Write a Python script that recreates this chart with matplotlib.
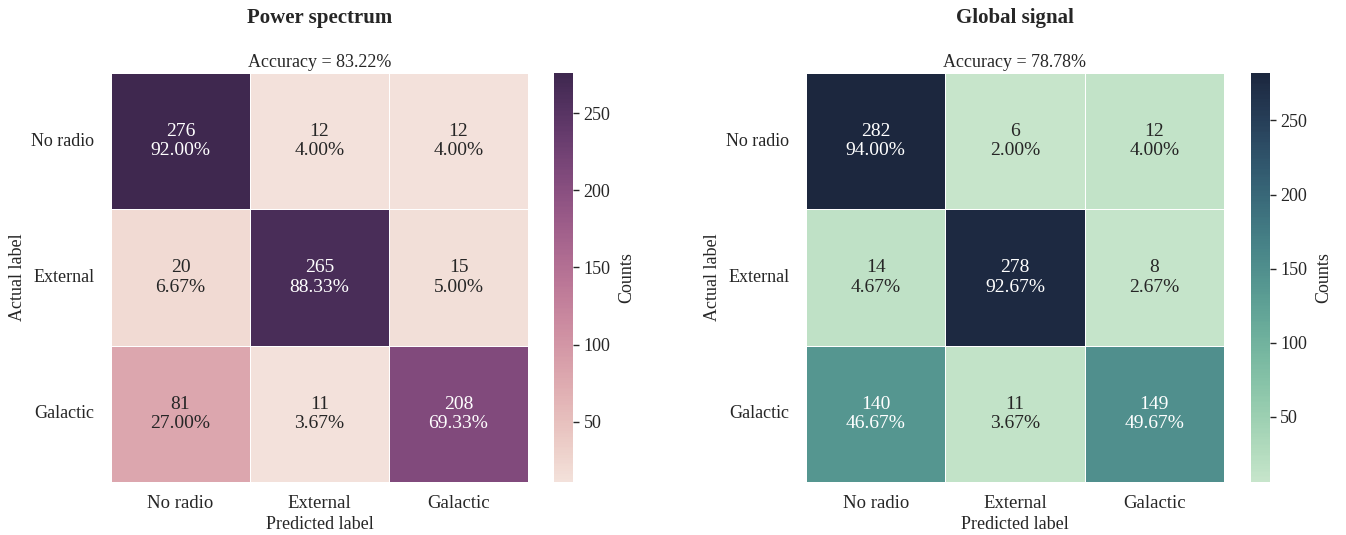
import numpy as np
import matplotlib
matplotlib.use("Agg")
import matplotlib.pyplot as plt
import seaborn as sns

# confusion matrices (rows = actual, cols = predicted)
labels = ["No radio", "External", "Galactic"]
cm_ps = np.array([[276, 12, 12],
                  [20, 265, 15],
                  [81, 11, 208]])
cm_gs = np.array([[282, 6, 12],
                  [14, 278, 8],
                  [140, 11, 149]])
titles = ["Power spectrum", "Global signal"]

sns.set_theme(style="ticks")
plt.rcParams['font.family'] = ['Liberation Serif', 'DejaVu Serif']

fig = plt.figure(figsize=(13.46, 5.35), dpi=100)

cmaps = [sns.cubehelix_palette(light=.9, dark=.2, as_cmap=True),
         sns.cubehelix_palette(start=0, rot=-.4, as_cmap=True)]
ax_pos = [[0.0825, 0.099, 0.3098, 0.7645], [0.5988, 0.099, 0.3105, 0.7645]]
cb_pos = [[0.4116, 0.099, 0.0141, 0.7645], [0.9294, 0.099, 0.0141, 0.7645]]

for i, cm in enumerate([cm_ps, cm_gs]):
    ax = fig.add_axes(ax_pos[i])
    cax = fig.add_axes(cb_pos[i])
    pct = cm / cm.sum(axis=1, keepdims=True) * 100
    annot = np.array([[f"{cm[r, c]}\n{pct[r, c]:.2f}%" for c in range(3)]
                      for r in range(3)])
    sns.heatmap(cm, annot=annot, fmt="", cmap=cmaps[i], ax=ax, cbar_ax=cax,
                linewidths=0.6, linecolor="white",
                xticklabels=labels, yticklabels=labels,
                annot_kws={"fontsize": 14},
                cbar_kws={"label": "Counts"})
    acc = np.trace(cm) / cm.sum() * 100
    ax.set_title(f"Accuracy = {acc:.2f}%", fontsize=13, pad=4)
    ax.text(0.5, 1.135, titles[i], transform=ax.transAxes, ha="center",
            va="center", fontsize=15, fontweight="bold")
    ax.set_xlabel("Predicted label", fontsize=13, labelpad=3)
    ax.set_ylabel("Actual label", fontsize=13)
    ax.tick_params(axis="y", length=0, labelsize=13, pad=12, rotation=0)
    ax.tick_params(axis="x", length=0, labelsize=13.5, pad=9)
    cax.tick_params(labelsize=13, length=4, width=1)
    cax.yaxis.label.set_size(13)
    cax.yaxis.labelpad = 6
    for s in cax.spines.values():
        s.set_visible(False)

fig.savefig("out.png", dpi=100)
